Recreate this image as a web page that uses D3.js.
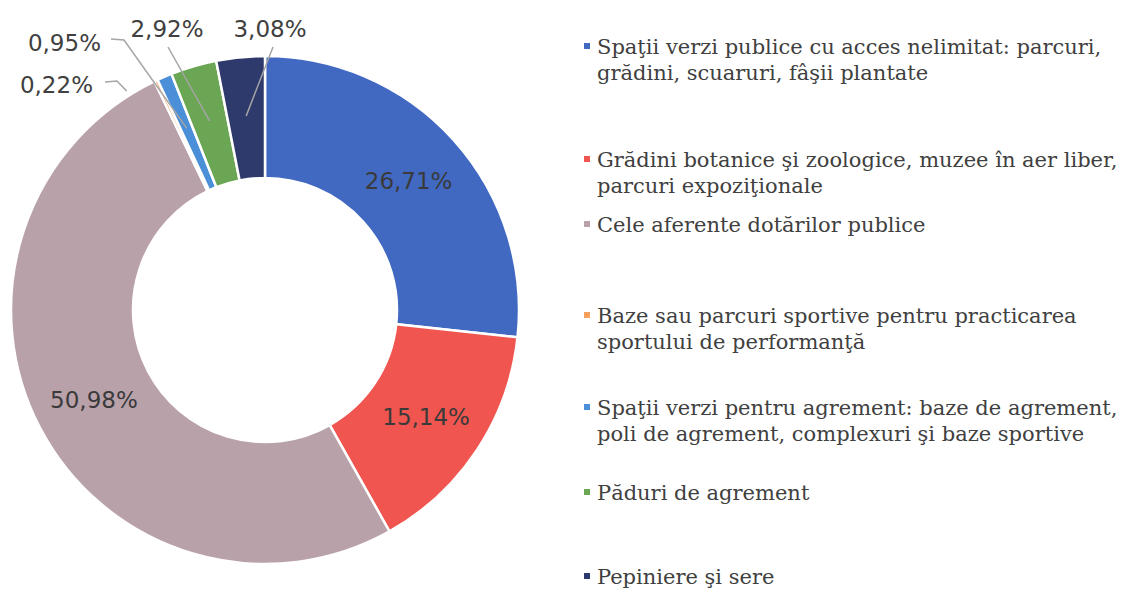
<!DOCTYPE html>
<html>
<head>
<meta charset="utf-8">
<script src="https://cdn.jsdelivr.net/npm/d3@7"></script>
<style>
  body { margin: 0; background: #fff; }
  svg { display: block; }
</style>
</head>
<body>
<svg id="chart" width="1134" height="590"></svg>
<script>
// data
var categories = [
    'Spaţii verzi publice cu acces nelimitat: parcuri, grădini, scuaruri, fâşii plantate',
    'Grădini botanice şi zoologice, muzee în aer liber, parcuri expoziţionale',
    'Cele aferente dotărilor publice',
    'Baze sau parcuri sportive pentru practicarea sportului de performanţă',
    'Spaţii verzi pentru agrement: baze de agrement, poli de agrement, complexuri şi baze sportive',
    'Păduri de agrement',
    'Pepiniere şi sere'
];
var values = [26.71, 15.14, 50.98, 0.22, 0.95, 2.92, 3.08];
var valueLabels = ['26,71%', '15,14%', '50,98%', '0,22%', '0,95%', '2,92%', '3,08%'];
// legend text as it wraps in the picture
var legendLines = [
    ['Spaţii verzi publice cu acces nelimitat: parcuri,', 'grădini, scuaruri, fâşii plantate'],
    ['Grădini botanice şi zoologice, muzee în aer liber,', 'parcuri expoziţionale'],
    ['Cele aferente dotărilor publice'],
    ['Baze sau parcuri sportive pentru practicarea', 'sportului de performanţă'],
    ['Spaţii verzi pentru agrement: baze de agrement,', 'poli de agrement, complexuri şi baze sportive'],
    ['Păduri de agrement'],
    ['Pepiniere şi sere']
];

var colors = ['#4169c2', '#f0554f', '#b9a1aa', '#f5a05c', '#4a8fd8', '#6aa653', '#2e3a6c'];

var svg = d3.select('#chart');
var cx = 265, cy = 310;
var outerR = 254, innerR = 132;

var pie = d3.pie().sort(null).value(function(d) { return d; });
var arcs = pie(values);
var arc = d3.arc().innerRadius(innerR).outerRadius(outerR);

var g = svg.append('g').attr('transform', 'translate(' + cx + ',' + cy + ')');

g.selectAll('path')
    .data(arcs)
    .enter()
    .append('path')
    .attr('d', arc)
    .style('fill', function(d, i) { return colors[i]; })
    .style('stroke', '#fff')
    .style('stroke-width', 2.5);

// labels inside the big slices
var labelArc = d3.arc().innerRadius(193).outerRadius(193);
g.selectAll('text.inside')
    .data(arcs.filter(function(d) { return d.value > 10; }))
    .enter()
    .append('text')
    .attr('class', 'inside')
    .attr('transform', function(d) { return 'translate(' + labelArc.centroid(d) + ')'; })
    .attr('text-anchor', 'middle')
    .attr('dy', '0.36em')
    .style('font-family', 'DejaVu Sans, Verdana, sans-serif')
    .style('font-size', '23px')
    .style('fill', '#3a3a3a')
    .text(function(d) { return valueLabels[d.index]; });

// small slices: label placed outside with a leader line
// [slice index, label x, label y (baseline), anchor, line points before the slice end, end radius, angle shift]
var outside = [
    {i: 3, x: 93, y: 93, anchor: 'end', pts: [[105, 82], [117, 81]], r: 259, shift: -0.12},
    {i: 4, x: 101, y: 51, anchor: 'end', pts: [[111, 39], [124, 40]], r: 198, shift: 0},
    {i: 5, x: 167, y: 37, anchor: 'middle', pts: [[168, 47]], r: 197, shift: 0},
    {i: 6, x: 270, y: 37, anchor: 'middle', pts: [[273, 47]], r: 195, shift: 0}
];

var line = d3.line();
outside.forEach(function(o) {
    var a = arcs[o.i];
    var ang = (a.startAngle + a.endAngle) / 2 + o.shift;
    var end = [cx + o.r * Math.sin(ang), cy - o.r * Math.cos(ang)];
    svg.append('path')
        .attr('d', line(o.pts.concat([end])))
        .style('fill', 'none')
        .style('stroke', '#a5a5a5')
        .style('stroke-width', 1.5);
    svg.append('text')
        .attr('x', o.x)
        .attr('y', o.y)
        .attr('text-anchor', o.anchor)
        .style('font-family', 'DejaVu Sans, Verdana, sans-serif')
        .style('font-size', '23px')
        .style('fill', '#404040')
        .text(valueLabels[o.i]);
});

// legend
var legendX = 597;
var legendY = [54, 167, 232, 323, 415, 500, 584];
var lineH = 26;
var legend = svg.append('g');
legendLines.forEach(function(lines, i) {
    legend.append('rect')
        .attr('x', legendX - 13)
        .attr('y', legendY[i] - 11)
        .attr('width', 6)
        .attr('height', 6)
        .style('fill', colors[i]);
    var t = legend.append('text')
        .attr('x', legendX)
        .attr('y', legendY[i])
        .style('font-family', 'DejaVu Serif, serif')
        .style('font-size', '21px')
        .style('fill', '#404040');
    lines.forEach(function(s, k) {
        t.append('tspan')
            .attr('x', legendX)
            .attr('dy', k === 0 ? 0 : lineH)
            .text(s);
    });
});
</script>
</body>
</html>
